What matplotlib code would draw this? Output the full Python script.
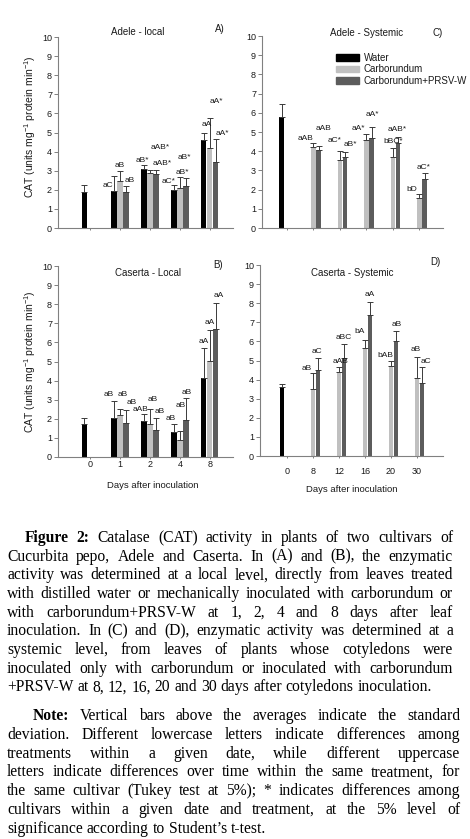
import numpy as np
import matplotlib
matplotlib.use('Agg')
import matplotlib.pyplot as plt
import matplotlib.patches as mpatches

plt.rcParams['font.family'] = ['Liberation Sans', 'DejaVu Sans']

nan = np.nan
W, H = 470, 839

days_local = ['0', '1', '2', '4', '8']
days_systemic = ['0', '8', '12', '16', '20', '30']
treatments = ['Water', 'Carborundum', 'Carborundum+PRSV-W']

# ---- Adele - local (A)
adele_local_water = [1.90, 1.95, 3.10, 2.00, 4.60]
adele_local_water_sd = [0.37, 0.75, 0.22, 0.27, 0.39]
adele_local_carb = [nan, 2.45, 2.90, 2.10, 4.20]
adele_local_carb_sd = [nan, 0.55, 0.14, 0.59, 1.57]
adele_local_prsv = [nan, 1.90, 2.83, 2.20, 3.46]
adele_local_prsv_sd = [nan, 0.30, 0.21, 0.42, 1.20]
adele_local_letters = ['aC', 'aB', 'aB', 'aB*', 'aAB*', 'aAB*', 'aC*', 'aB*', 'aB*', 'aA', 'aA*', 'aA*']
adele_local_letter_cat = [1, 1, 1, 2, 2, 2, 3, 3, 3, 4, 4, 4]

# ---- Caserta - local (B)
caserta_local_water = [1.71, 2.06, 1.88, 1.31, 4.15]
caserta_local_water_sd = [0.31, 0.87, 0.39, 0.40, 1.54]
caserta_local_carb = [nan, 2.20, 1.75, 0.87, 5.03]
caserta_local_carb_sd = [nan, 0.30, 0.78, 0.49, 1.60]
caserta_local_prsv = [nan, 1.78, 1.40, 1.92, 6.68]
caserta_local_prsv_sd = [nan, 0.68, 0.66, 1.15, 1.40]
caserta_local_letters = ['aB', 'aB', 'aB', 'aAB', 'aB', 'aB', 'aB', 'aB', 'aB', 'aA', 'aA', 'aA']
caserta_local_letter_cat = [1, 1, 1, 2, 2, 2, 3, 3, 3, 4, 4, 4]

# ---- Adele - systemic (C)
adele_sys_water = [5.78, nan, nan, nan, nan, nan]
adele_sys_water_sd = [0.68, nan, nan, nan, nan, nan]
adele_sys_carb = [nan, 4.24, 3.54, 4.59, 3.72, 1.54]
adele_sys_carb_sd = [nan, 0.18, 0.49, 0.30, 0.47, 0.21]
adele_sys_prsv = [nan, 4.07, 3.72, 4.71, 4.42, 2.57]
adele_sys_prsv_sd = [nan, 0.22, 0.26, 0.54, 0.34, 0.28]
adele_sys_letters = ['aAB', 'aAB', 'aC*', 'aB*', 'aA*', 'aA*', 'bBC*', 'aAB*', 'bD', 'aC*']
adele_sys_letter_cat = [1, 1, 2, 2, 3, 3, 4, 4, 5, 5]

# ---- Caserta - systemic (D)
caserta_sys_water = [3.62, nan, nan, nan, nan, nan]
caserta_sys_water_sd = [0.16, nan, nan, nan, nan, nan]
caserta_sys_carb = [nan, 3.51, 4.42, 5.64, 4.71, 4.10]
caserta_sys_carb_sd = [nan, 0.82, 0.22, 0.43, 0.26, 1.10]
caserta_sys_prsv = [nan, 4.50, 5.15, 7.38, 6.02, 3.84]
caserta_sys_prsv_sd = [nan, 0.61, 0.71, 0.70, 0.54, 0.80]
caserta_sys_letters = ['aB', 'aC', 'aAB', 'aBC', 'bA', 'aA', 'bAB', 'aB', 'aB', 'aC']
caserta_sys_letter_cat = [1, 1, 2, 2, 3, 3, 4, 4, 5, 5]

# ---- letter placement (offset from category, height in data units)
A_dx = [-0.42, 0.0, 0.32, -0.25, 0.33, 0.40, -0.38, 0.08, 0.15, -0.10, 0.20, 0.42]
A_y = [2.22, 3.26, 2.48, 3.53, 4.19, 3.39, 2.41, 2.91, 3.70, 5.40, 6.60, 4.94]
B_dx = [-0.36, 0.09, 0.39, -0.33, 0.09, 0.33, -0.31, 0.02, 0.24, -0.22, -0.02, 0.28]
B_y = [3.25, 3.28, 2.84, 2.50, 3.02, 2.37, 2.02, 2.70, 3.37, 6.07, 7.03, 8.43]
C_dx = [-0.31, 0.38, -0.20, 0.39, -0.32, 0.21, 0.03, 0.15, -0.28, 0.16]
C_y = [4.64, 5.20, 4.54, 4.33, 5.20, 5.90, 4.50, 5.15, 2.02, 3.14]
D_dx = [-0.23, 0.15, 0.05, 0.18, -0.22, 0.17, -0.22, 0.23, -0.04, 0.35]
D_y = [4.59, 5.46, 4.94, 6.20, 6.51, 8.43, 5.24, 6.90, 5.55, 4.94]

colors = ['#000000', '#c0c0c0', '#5c5c5c']
offsets = [-0.2, 0.0, 0.2]
bar_w = 0.17
axis_gray = '#808080'
txt = '#1a1a1a'

fig = plt.figure(figsize=(W / 100, H / 100), dpi=100)


def rect(l, t, r, b):
    return [l / W, 1 - b / H, (r - l) / W, (b - t) / H]


def fx(x):
    return x / W


def fy(y):
    return 1 - y / H


def panel(ax, cats, means, sds, letters, lcat, ldx, ly, xlim, show_xlabels, xpad):
    x = np.arange(len(cats))
    for j in range(3):
        m = np.array(means[j], dtype=float)
        s = np.array(sds[j], dtype=float)
        ok = ~np.isnan(m)
        xx = x[ok] + offsets[j]
        ax.bar(xx, m[ok], width=bar_w, color=colors[j], edgecolor='none', zorder=2)
        ax.errorbar(xx, m[ok], yerr=[np.zeros(ok.sum()), s[ok]], fmt='none',
                    ecolor='#3a3a3a', elinewidth=0.7, capsize=2.2, capthick=0.7, zorder=3)
    for t, c, dx, yy in zip(letters, lcat, ldx, ly):
        ax.text(c + dx, yy, t, ha='center', va='center', fontsize=6, color=txt, zorder=4)
    ax.set_xlim(*xlim)
    ax.set_ylim(0, 10)
    ax.set_yticks(range(0, 11))
    ax.set_xticks(x)
    ax.set_xticklabels(cats if show_xlabels else [])
    for s in ['top', 'right']:
        ax.spines[s].set_visible(False)
    for s in ['left', 'bottom']:
        ax.spines[s].set_color(axis_gray)
        ax.spines[s].set_linewidth(0.8)
    ax.tick_params(axis='y', length=2.8, width=0.7, color=axis_gray, labelsize=6.5,
                   labelcolor=txt, pad=1.5)
    ax.tick_params(axis='x', length=1.6, width=0.7, color=axis_gray, labelsize=6.5,
                   labelcolor=txt, pad=xpad)
    ax.set_facecolor('none')


axA = fig.add_axes(rect(58, 37, 233, 228))
panel(axA, days_local,
      [adele_local_water, adele_local_carb, adele_local_prsv],
      [adele_local_water_sd, adele_local_carb_sd, adele_local_prsv_sd],
      adele_local_letters, adele_local_letter_cat, A_dx, A_y, (-1.07, 4.77), False, 1)

axB = fig.add_axes(rect(58, 266, 233, 457))
panel(axB, days_local,
      [caserta_local_water, caserta_local_carb, caserta_local_prsv],
      [caserta_local_water_sd, caserta_local_carb_sd, caserta_local_prsv_sd],
      caserta_local_letters, caserta_local_letter_cat, B_dx, B_y, (-1.07, 4.77), True, 0.8)

axC = fig.add_axes(rect(262, 36, 443, 228))
panel(axC, days_systemic,
      [adele_sys_water, adele_sys_carb, adele_sys_prsv],
      [adele_sys_water_sd, adele_sys_carb_sd, adele_sys_prsv_sd],
      adele_sys_letters, adele_sys_letter_cat, C_dx, C_y, (-0.94, 5.89), False, 1)

axD = fig.add_axes(rect(260, 265, 443, 456))
panel(axD, days_systemic,
      [caserta_sys_water, caserta_sys_carb, caserta_sys_prsv],
      [caserta_sys_water_sd, caserta_sys_carb_sd, caserta_sys_prsv_sd],
      caserta_sys_letters, caserta_sys_letter_cat, D_dx, D_y, (-1.04, 6.0), True, 6)

# titles and panel letters
for s, x, y in [('Adele - local', 138, 32), ('Adele - Systemic', 367, 33.5),
                ('Caserta - Local', 148, 273), ('Caserta - Systemic', 352, 273)]:
    fig.text(fx(x), fy(y), s, ha='center', va='center', fontsize=7, color=txt)
for s, x, y in [('A)', 220, 28.5), ('C)', 438, 32.5), ('B)', 218, 265), ('D)', 435, 262)]:
    fig.text(fx(x), fy(y), s, ha='center', va='center', fontsize=7, color=txt)

ylab = r'CAT (units mg$\mathregular{^{-1}}$ protein min$\mathregular{^{-1}}$)'
fig.text(fx(30), fy(127), ylab, rotation=90, ha='center', va='center', fontsize=7.5, color=txt)
fig.text(fx(30), fy(362), ylab, rotation=90, ha='center', va='center', fontsize=7.5, color=txt)
fig.text(fx(153), fy(486), 'Days after inoculation', ha='center', va='center', fontsize=6.8, color=txt)
fig.text(fx(352), fy(489), 'Days after inoculation', ha='center', va='center', fontsize=6.8, color=txt)

handles = [mpatches.Patch(color=c, label=l) for c, l in zip(colors, treatments)]
fig.legend(handles=handles, loc='upper left', bbox_to_anchor=(fx(336), fy(53)),
           bbox_transform=fig.transFigure, frameon=False, fontsize=7,
           handlelength=2.4, handleheight=0.65, labelspacing=0.15, handletextpad=0.45,
           borderpad=0, borderaxespad=0, labelcolor=txt)

# ---- caption (justified text)
cap1 = [
    "Figure 2: Catalase (CAT) activity in plants of two cultivars of",
    "Cucurbita pepo, Adele and Caserta. In (A) and (B), the enzymatic",
    "activity was determined at a local level, directly from leaves treated",
    "with distilled water or mechanically inoculated with carborundum or",
    "with carborundum+PRSV-W at 1, 2, 4 and 8 days after leaf",
    "inoculation. In (C) and (D), enzymatic activity was determined at a",
    "systemic level, from leaves of plants whose cotyledons were",
    "inoculated only with carborundum or inoculated with carborundum",
    "+PRSV-W at 8, 12, 16, 20 and 30 days after cotyledons inoculation.",
]
cap2 = [
    "Note: Vertical bars above the averages indicate the standard",
    "deviation. Different lowercase letters indicate differences among",
    "treatments within a given date, while different uppercase",
    "letters indicate differences over time within the same treatment, for",
    "the same cultivar (Tukey test at 5%); * indicates differences among",
    "cultivars within a given date and treatment, at the 5% level of",
    "significance according to Student\u2019s t-test.",
]
bold_words = {'Figure', '2:', 'Note:'}

renderer = fig.canvas.get_renderer()
CAP_FONT = 'Liberation Serif'


def measure(s, size, weight='normal'):
    t = fig.text(0, 0, s, fontsize=size, family=CAP_FONT, weight=weight)
    w = t.get_window_extent(renderer).width
    t.remove()
    return w


# choose the caption size so the last (unjustified) line spans ~425 px as in the reference
w10 = measure(cap1[-1], 10)
CAP_SIZE = 10 * 425 / w10
space_w = measure('x x', CAP_SIZE) - measure('xx', CAP_SIZE)


def place_line(line, y_px, x0, x1, justify, first):
    words = line.split()
    objs, widths = [], []
    for i, w in enumerate(words):
        wt = 'bold' if (first and i < 2 and w in bold_words) else 'normal'
        t = fig.text(0, fy(y_px), w, fontsize=CAP_SIZE, family=CAP_FONT, weight=wt,
                     ha='left', va='baseline', color='#000000')
        objs.append(t)
        widths.append(t.get_window_extent(renderer).width)
    if justify and len(objs) > 1:
        gap = (x1 - x0 - sum(widths)) / (len(objs) - 1)
    else:
        gap = space_w
    x = x0
    for t, w in zip(objs, widths):
        t.set_x(fx(x))
        x += w + gap


for i, line in enumerate(cap1):
    y = 542 + i * 18.65
    x0 = 25 if i == 0 else 7
    place_line(line, y, x0, 453, i < len(cap1) - 1, i == 0)

for i, line in enumerate(cap2):
    y = 720 + i * 18.8
    x0 = 33 if i == 0 else 7
    place_line(line, y, x0, 460, i < len(cap2) - 1, i == 0)

fig.savefig('out.png', dpi=100)
